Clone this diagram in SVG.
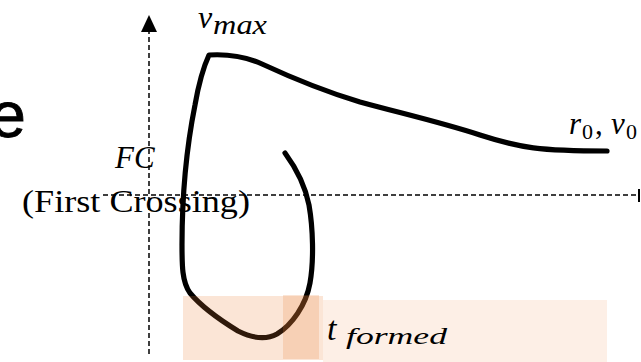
<svg xmlns="http://www.w3.org/2000/svg" width="641" height="362" viewBox="0 0 641 362">
<defs>
<style>
.axis{stroke:#000;stroke-width:1.5;stroke-dasharray:5 3;fill:none}
.curve{stroke:#000;stroke-width:5.2;fill:none;stroke-linecap:round;stroke-linejoin:round}
.math{font-family:"Liberation Serif","DejaVu Serif",serif;font-style:italic;fill:#000}
.up{font-family:"Liberation Serif","DejaVu Serif",serif;fill:#000}
.band{fill:#ED7D31}
</style>
</defs>
<rect width="641" height="362" fill="#fff"/>
<g id="title-fragment">
<text x="26" y="137" font-family="Liberation Sans, Arial, sans-serif" font-size="65" text-anchor="end" stroke="#000" stroke-width="0.8">e</text>
</g>
<g id="connectors">
<line class="axis" x1="149" y1="354" x2="149" y2="30"/>
<polygon points="149,15 141,32 157,32" fill="#000"/>
<line class="axis" x1="103" y1="195" x2="638" y2="195"/>
<line x1="639" y1="189" x2="639" y2="202" stroke="#000" stroke-width="2"/>
</g>
<g id="trajectory">
<path class="curve" d="M285,153 C296,168 305,185 309,205 C313,228 314,260 310,283 C306,305 292,325 277,334 C266,340 252,338 238,331 C220,320 200,305 190,293 C182,282 182,265 182,245 C182,200 186,150 195,105 C199,82 203,68 209,55 C225,54 242,55 262,64 C290,77 320,90 360,102 C400,113 440,122 480,135 C520,148 540,151 607,151"/>
</g>
<g id="formation-band">
<rect class="band" x="183" y="296" width="140" height="64" opacity="0.2"/>
<rect class="band" x="283" y="295" width="36" height="64" opacity="0.2"/>
<rect class="band" x="323" y="300" width="284" height="62" opacity="0.12"/>
</g>
<g id="label-vmax">
<text class="math" x="198" y="28" font-size="32">v</text>
<text class="math" x="213" y="34" font-size="28" textLength="54" lengthAdjust="spacingAndGlyphs">max</text>
</g>
<g id="label-fc">
<text class="math" x="115" y="168" font-size="31">FC</text>
<text class="up" x="22" y="212" font-size="31" textLength="228" lengthAdjust="spacingAndGlyphs">(First Crossing)</text>
</g>
<g id="label-r0v0">
<text class="math" x="569" y="134" font-size="31">r</text>
<text class="up" x="582" y="139" font-size="22">0</text>
<text class="up" x="595" y="134" font-size="31">,</text>
<text class="math" x="611" y="134" font-size="31">v</text>
<text class="up" x="626" y="139" font-size="22">0</text>
</g>
<g id="label-tformed">
<text class="math" x="327" y="340" font-size="34">t</text>
<text class="math" x="346" y="344" font-size="24" textLength="101" lengthAdjust="spacingAndGlyphs">formed</text>
</g>
</svg>
